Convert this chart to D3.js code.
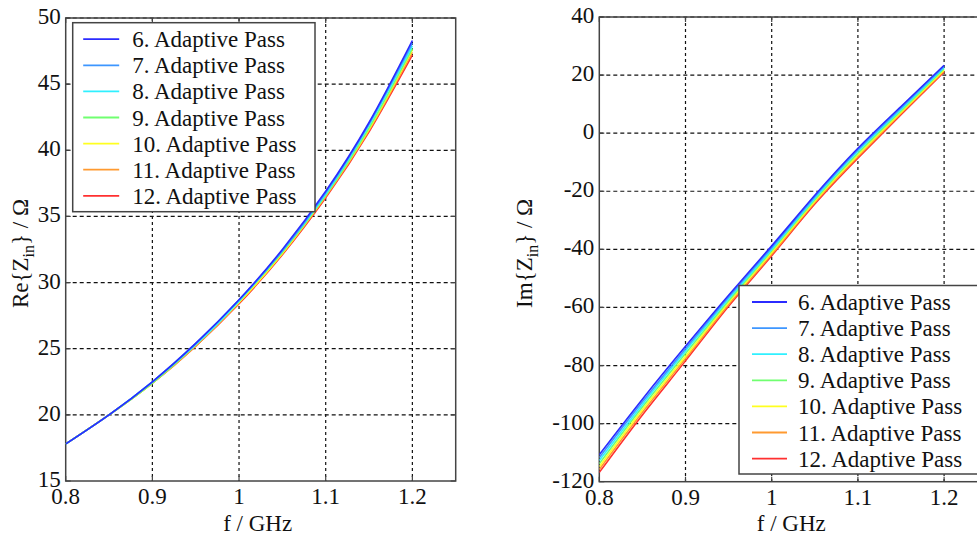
<!DOCTYPE html>
<html>
<head>
<meta charset="utf-8">
<script src="https://cdn.jsdelivr.net/npm/d3@7"></script>
<style>
  body { margin: 0; background: #fff; }
  svg { display: block; }
</style>
</head>
<body>
<div id="wrapper"></div>
<script>
// frequencies (GHz)
const freqs = [0.8, 0.85, 0.9, 0.95, 1.0, 1.05, 1.1, 1.15, 1.2];

const passNames = ['6. Adaptive Pass', '7. Adaptive Pass', '8. Adaptive Pass', '9. Adaptive Pass',
  '10. Adaptive Pass', '11. Adaptive Pass', '12. Adaptive Pass'];
const passColors = ['#2b2bff', '#3d96ff', '#30f0ff', '#70ff70', '#ffff20', '#ff9a30', '#ff3030'];

// Re{Zin} / Ohm, one row per adaptive pass
const reZ = [
  [17.8, 20.0, 22.5, 25.4, 28.7, 32.5, 36.9, 42.1, 48.3],
  [17.8, 20.0, 22.5, 25.4, 28.7, 32.4, 36.8, 42.0, 48.1],
  [17.8, 20.0, 22.5, 25.3, 28.6, 32.4, 36.7, 41.9, 47.9],
  [17.8, 20.0, 22.4, 25.3, 28.6, 32.3, 36.6, 41.7, 47.7],
  [17.8, 20.0, 22.4, 25.3, 28.5, 32.2, 36.6, 41.6, 47.6],
  [17.8, 20.0, 22.4, 25.2, 28.5, 32.2, 36.5, 41.5, 47.4],
  [17.8, 20.0, 22.4, 25.2, 28.4, 32.1, 36.4, 41.4, 47.2]
];

// Im{Zin} / Ohm
const imZ = [
  [-110.7, -91.6, -73.4, -55.8, -38.8, -21.4, -5.2, 9.2, 23.4],
  [-111.7, -92.5, -74.2, -56.4, -39.4, -21.9, -5.7, 8.7, 23.0],
  [-112.7, -93.4, -75.0, -57.0, -40.0, -22.4, -6.2, 8.2, 22.6],
  [-113.8, -94.3, -75.9, -57.7, -40.5, -22.9, -6.9, 7.7, 22.2],
  [-114.8, -95.2, -76.8, -58.3, -41.1, -23.4, -7.5, 7.2, 21.8],
  [-115.8, -96.1, -77.6, -59.0, -41.7, -23.9, -8.1, 6.8, 21.4],
  [-116.8, -97.0, -78.4, -59.6, -42.2, -24.4, -8.6, 6.4, 21.1]
];

const xTicks = [0.8, 0.9, 1.0, 1.1, 1.2];
const reTicks = [15, 20, 25, 30, 35, 40, 45, 50];
const imTicks = [-120, -100, -80, -60, -40, -20, 0, 20, 40];

const FONT = "'Liberation Serif', 'DejaVu Serif', 'Times New Roman', serif";

const svg = d3.select('#wrapper').append('svg').attr('width', 977).attr('height', 536)
  .attr('font-family', FONT);

function drawPanel(opts) {
  const x = d3.scaleLinear().domain([0.8, 1.25]).range([opts.left, opts.right]);
  const y = d3.scaleLinear().domain(opts.yDomain).range([opts.bottom, opts.top]);
  const g = svg.append('g');

  // grid
  g.selectAll('.gx').data(xTicks.slice(1)).enter().append('line')
    .attr('x1', d => x(d)).attr('x2', d => x(d))
    .attr('y1', opts.top).attr('y2', opts.bottom)
    .attr('stroke', '#111').attr('stroke-width', 1.2).attr('stroke-dasharray', '3,3');
  g.selectAll('.gy').data(opts.yTicks.slice(1)).enter().append('line')
    .attr('x1', opts.left).attr('x2', opts.right)
    .attr('y1', d => y(d)).attr('y2', d => y(d))
    .attr('stroke', '#111').attr('stroke-width', 1.2).attr('stroke-dasharray', '4,3');

  // box
  g.append('rect')
    .attr('x', opts.left).attr('y', opts.top)
    .attr('width', opts.right - opts.left).attr('height', opts.bottom - opts.top)
    .attr('fill', 'none').attr('stroke', '#444').attr('stroke-width', 1.5);

  // inward ticks
  const tl = 5;
  xTicks.forEach(t => {
    g.append('line').attr('x1', x(t)).attr('x2', x(t)).attr('y1', opts.bottom).attr('y2', opts.bottom - tl)
      .attr('stroke', '#444').attr('stroke-width', 1.2);
    g.append('line').attr('x1', x(t)).attr('x2', x(t)).attr('y1', opts.top).attr('y2', opts.top + tl)
      .attr('stroke', '#444').attr('stroke-width', 1.2);
  });
  opts.yTicks.forEach(t => {
    g.append('line').attr('x1', opts.left).attr('x2', opts.left + tl).attr('y1', y(t)).attr('y2', y(t))
      .attr('stroke', '#444').attr('stroke-width', 1.2);
    g.append('line').attr('x1', opts.right).attr('x2', opts.right - tl).attr('y1', y(t)).attr('y2', y(t))
      .attr('stroke', '#444').attr('stroke-width', 1.2);
  });

  // tick labels
  g.selectAll('.xl').data(xTicks).enter().append('text')
    .attr('x', d => x(d)).attr('y', opts.bottom + 23)
    .attr('text-anchor', 'middle').attr('font-size', 23).attr('fill', '#111')
    .text(d => d3.format('~g')(d));
  g.selectAll('.yl').data(opts.yTicks).enter().append('text')
    .attr('x', opts.left - 5).attr('y', d => y(d) + 6)
    .attr('text-anchor', 'end').attr('font-size', 23).attr('fill', '#111')
    .text(d => d);

  // axis labels
  g.append('text')
    .attr('x', opts.left + 192).attr('y', 531)
    .attr('text-anchor', 'middle').attr('font-size', 23).attr('fill', '#111')
    .text('f / GHz');
  const yl = g.append('text')
    .attr('transform', `translate(${opts.labelX},${(opts.top + opts.bottom) / 2 + 4}) rotate(-90)`)
    .attr('text-anchor', 'middle').attr('font-size', 23).attr('fill', '#111');
  yl.append('tspan').text(opts.labelPre + '{Z');
  yl.append('tspan').attr('font-size', 16).attr('dy', 6).text('in');
  yl.append('tspan').attr('dy', -6).text('} / \u03A9');

  // curves
  const clipId = 'clip' + opts.id;
  svg.append('clipPath').attr('id', clipId).append('rect')
    .attr('x', opts.left).attr('y', opts.top)
    .attr('width', opts.right - opts.left).attr('height', opts.bottom - opts.top);
  const line = d3.line().x((d, i) => x(freqs[i])).y(d => y(d)).curve(d3.curveNatural);
  g.append('g').attr('clip-path', `url(#${clipId})`)
    .selectAll('path').data(opts.series.slice().reverse()).enter().append('path')
    .attr('d', line)
    .attr('fill', 'none')
    .attr('stroke', (d, i) => passColors[passColors.length - 1 - i])
    .attr('stroke-width', 1.6);

  // legend
  const L = opts.legend;
  g.append('rect').attr('x', L.x).attr('y', L.y).attr('width', L.w).attr('height', L.h)
    .attr('fill', '#fff').attr('stroke', '#444').attr('stroke-width', 1.5);
  const rows = g.selectAll('.lg').data(passNames).enter().append('g')
    .attr('transform', (d, i) => `translate(${L.x},${L.y + 16.5 + i * 26.1})`);
  rows.append('line').attr('x1', L.lineX0).attr('x2', L.lineX1)
    .attr('stroke', (d, i) => passColors[i]).attr('stroke-width', 1.8);
  rows.append('text').attr('x', L.textX).attr('y', 8).attr('font-size', 23).attr('fill', '#111').text(d => d);
}

drawPanel({
  id: 'a', left: 65.7, right: 455.7, top: 18, bottom: 481,
  yDomain: [15, 50], yTicks: reTicks, series: reZ,
  labelX: 28, labelPre: 'Re',
  legend: { x: 72.7, y: 22.7, w: 242.3, h: 189, lineX0: 10.5, lineX1: 46.5, textX: 59.5 }
});

drawPanel({
  id: 'b', left: 599.3, right: 987.2, top: 17, bottom: 481.7,
  yDomain: [-120, 40], yTicks: imTicks, series: imZ,
  labelX: 532, labelPre: 'Im',
  legend: { x: 739, y: 285.5, w: 260, h: 188.5, lineX0: 13, lineX1: 48, textX: 59 }
});
</script>
</body>
</html>
